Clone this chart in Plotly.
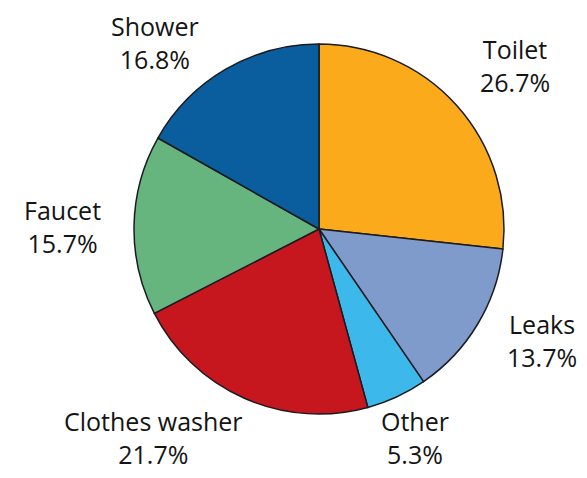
import plotly.graph_objects as go

labels = ["Toilet", "Leaks", "Other", "Clothes washer", "Faucet", "Shower"]
values = [26.7, 13.7, 5.3, 21.7, 15.7, 16.8]
colors = ["#FBAA1B", "#7E9BCC", "#3CB9EA", "#C5171D", "#67B57E", "#0B5E9E"]

# label block centres (pixels in the 587x478 window)
label_pos = {
    "Shower": (155, 42),
    "Toilet": (515, 66),
    "Faucet": (62, 226),
    "Leaks": (542, 340),
    "Clothes washer": (153, 437),
    "Other": (415, 437),
}

PAD = 8  # default page margin around the plot div
WIN_W, WIN_H = 587, 478
W, H = WIN_W - 2 * PAD, WIN_H - 2 * PAD
cx, cy, r = 319 - PAD, 229 - PAD, 185

fig = go.Figure(go.Pie(
    labels=labels,
    values=values,
    sort=False,
    direction="clockwise",
    rotation=0,
    textinfo="none",
    hoverinfo="label+value",
    marker=dict(colors=colors, line=dict(color="#1b1b22", width=1.5)),
    domain=dict(x=[(cx - r) / W, (cx + r) / W], y=[1 - (cy + r) / H, 1 - (cy - r) / H]),
    showlegend=False,
))

annotations = []
for lab, val in zip(labels, values):
    px, py = label_pos[lab]
    px, py = px - PAD, py - PAD
    annotations.append(dict(
        x=px / W, y=1 - py / H, xref="paper", yref="paper",
        text=f"{lab}<br>{val:.1f}%", showarrow=False,
        xanchor="center", yanchor="middle", align="center",
        font=dict(family="Open Sans", size=25, color="#141414"),
    ))

fig.update_layout(
    width=W, height=H,
    margin=dict(l=0, r=0, t=0, b=0),
    paper_bgcolor="white", plot_bgcolor="white",
    annotations=annotations,
)

fig.write_html("out.html")
